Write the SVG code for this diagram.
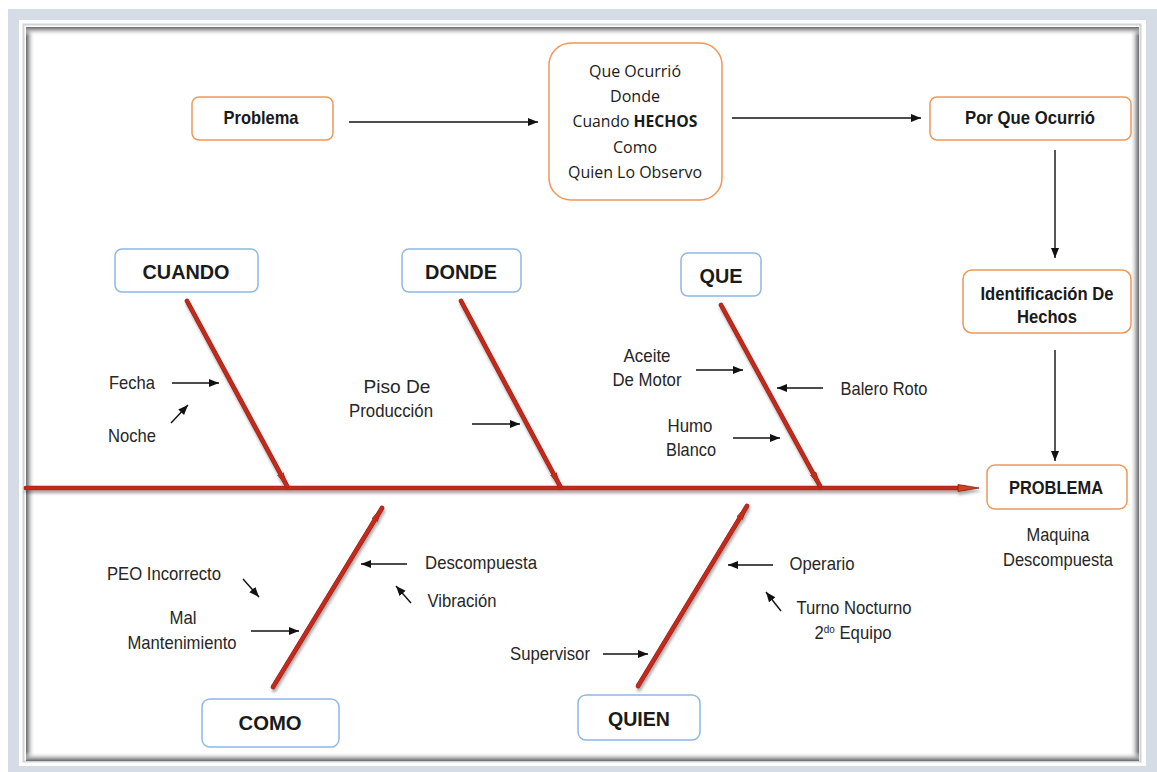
<svg xmlns="http://www.w3.org/2000/svg" width="1157" height="772" viewBox="0 0 1157 772">
  <defs>
    <style>
      .onode { fill: #ffffff; stroke: #f0975a; stroke-width: 1.5; }
      .bnode { fill: #ffffff; stroke: #8fb8e3; stroke-width: 1.5; }
      .hd { font-family: "Liberation Sans", Arial, sans-serif; font-weight: bold; fill: #1a1a1a; text-anchor: middle; }
      .lb { font-family: "Liberation Sans", Arial, sans-serif; font-size: 18.5px; fill: #262626; text-anchor: middle; }
      .cb { font-family: "Open Sans", "Liberation Sans", sans-serif; font-size: 16px; fill: #1a1a1a; text-anchor: middle; }
      .ar { stroke: #111; stroke-width: 1.4; fill: none; marker-end: url(#ah); }
      .bone { stroke: #c42a1c; stroke-width: 3.6; fill: none; stroke-linecap: round; }
      .boneEdge { stroke: #8e1d12; stroke-width: 4.6; fill: none; stroke-linecap: round; }
    </style>
    <marker id="ah" markerUnits="userSpaceOnUse" markerWidth="12" markerHeight="10" refX="10" refY="4" orient="auto">
      <path d="M0,0 L10,4 L0,8 Z" fill="#111"/>
    </marker>
    <marker id="rh" markerUnits="userSpaceOnUse" markerWidth="16" markerHeight="10" refX="14" refY="4" orient="auto">
      <path d="M0,1 L14,4 L0,7 Z" fill="#d0421f" stroke="#8e1d12" stroke-width="0.8"/>
    </marker>
    <filter id="sh" x="-5%" y="-20%" width="110%" height="140%">
      <feGaussianBlur in="SourceAlpha" stdDeviation="1.6"/>
      <feOffset dx="1" dy="2.5" result="b"/>
      <feComponentTransfer><feFuncA type="linear" slope="0.35"/></feComponentTransfer>
      <feMerge><feMergeNode/><feMergeNode in="SourceGraphic"/></feMerge>
    </filter>
    <linearGradient id="fadeL" x1="0" x2="1" y1="0" y2="0">
      <stop offset="0" stop-color="#6a6a6a"/><stop offset="0.25" stop-color="#9c9c9c"/><stop offset="1" stop-color="#ffffff" stop-opacity="0"/>
    </linearGradient>
    <linearGradient id="fadeR" x1="1" x2="0" y1="0" y2="0">
      <stop offset="0" stop-color="#6a6a6a"/><stop offset="0.25" stop-color="#9c9c9c"/><stop offset="1" stop-color="#ffffff" stop-opacity="0"/>
    </linearGradient>
    <linearGradient id="fadeT" x1="0" x2="0" y1="0" y2="1">
      <stop offset="0" stop-color="#6a6a6a"/><stop offset="0.25" stop-color="#9c9c9c"/><stop offset="1" stop-color="#ffffff" stop-opacity="0"/>
    </linearGradient>
    <linearGradient id="fadeB" x1="0" x2="0" y1="1" y2="0">
      <stop offset="0" stop-color="#6a6a6a"/><stop offset="0.25" stop-color="#9c9c9c"/><stop offset="1" stop-color="#ffffff" stop-opacity="0"/>
    </linearGradient>
  </defs>

  <!-- page frame -->
  <rect x="0" y="0" width="1157" height="772" fill="#ffffff"/>
  <rect x="8" y="9" width="1149" height="763" fill="#d5dce6"/>
  <rect x="19" y="20" width="1127" height="746" fill="#ffffff"/>
  <rect x="23.5" y="24.5" width="1117" height="737" fill="none" stroke="#cfd4dc" stroke-width="2"/>
  <rect x="26" y="27" width="1113" height="734" fill="#ffffff"/>
  <!-- inner shadow of the sheet -->
  <g>
    <rect x="26" y="27" width="9" height="734" fill="url(#fadeL)"/>
    <rect x="1130" y="27" width="9" height="734" fill="url(#fadeR)"/>
    <rect x="26" y="27" width="1113" height="9" fill="url(#fadeT)"/>
    <rect x="26" y="752" width="1113" height="9" fill="url(#fadeB)"/>
  </g>

  <!-- connectors -->
  <g id="connectors">
    <line class="ar" x1="349" y1="122" x2="538" y2="122"/>
    <line class="ar" x1="732" y1="118" x2="921" y2="118"/>
    <line class="ar" x1="1055" y1="150" x2="1055" y2="258"/>
    <line class="ar" x1="1055" y1="350" x2="1055" y2="461"/>

    <g filter="url(#sh)">
      <line class="boneEdge" x1="26" y1="488" x2="966" y2="488"/>
      <line class="bone" x1="26" y1="488" x2="966" y2="488" stroke-linecap="butt"/>
      <path d="M958,484.5 L979,488 L958,491.5 Z" fill="#d0421f" stroke="#8e1d12" stroke-width="0.8"/>

      <line class="boneEdge" x1="187" y1="301" x2="287" y2="486" marker-end="url(#rh)"/>
      <line class="bone" x1="187" y1="301" x2="287" y2="486"/>
      <line class="boneEdge" x1="461" y1="301" x2="560" y2="486" marker-end="url(#rh)"/>
      <line class="bone" x1="461" y1="301" x2="560" y2="486"/>
      <line class="boneEdge" x1="721" y1="305" x2="820" y2="486" marker-end="url(#rh)"/>
      <line class="bone" x1="721" y1="305" x2="820" y2="486"/>

      <line class="boneEdge" x1="273" y1="687" x2="382" y2="508" marker-end="url(#rh)"/>
      <line class="bone" x1="273" y1="687" x2="382" y2="508"/>
      <line class="boneEdge" x1="638" y1="686" x2="747" y2="506" marker-end="url(#rh)"/>
      <line class="bone" x1="638" y1="686" x2="747" y2="506"/>
    </g>

    <!-- cause arrows -->
    <line class="ar" x1="172" y1="383" x2="219" y2="383"/>
    <line class="ar" x1="171" y1="423" x2="188" y2="405"/>
    <line class="ar" x1="472" y1="424" x2="520" y2="424"/>
    <line class="ar" x1="696" y1="370" x2="743" y2="370"/>
    <line class="ar" x1="823" y1="388" x2="777" y2="388"/>
    <line class="ar" x1="733" y1="438" x2="780" y2="438"/>
    <line class="ar" x1="243" y1="579" x2="259" y2="597"/>
    <line class="ar" x1="251" y1="631" x2="299" y2="631"/>
    <line class="ar" x1="407" y1="564" x2="361" y2="564"/>
    <line class="ar" x1="411" y1="603" x2="396" y2="586"/>
    <line class="ar" x1="603" y1="654" x2="648" y2="654"/>
    <line class="ar" x1="773" y1="565" x2="728" y2="565"/>
    <line class="ar" x1="781" y1="611" x2="766" y2="592"/>
  </g>

  <!-- flow nodes -->
  <g id="n-problema">
    <rect class="onode" x="192" y="97" width="141" height="43" rx="7"/>
    <text class="hd" x="261" y="124" font-size="18.5" textLength="75" lengthAdjust="spacingAndGlyphs">Problema</text>
  </g>
  <g id="n-hechos">
    <rect class="onode" x="549" y="43" width="173" height="157" rx="22"/>
    <text class="cb" x="635" y="77" textLength="92" lengthAdjust="spacingAndGlyphs">Que Ocurrió</text>
    <text class="cb" x="635" y="102" textLength="50" lengthAdjust="spacingAndGlyphs">Donde</text>
    <text class="cb" x="635" y="127" textLength="125" lengthAdjust="spacingAndGlyphs">Cuando <tspan font-weight="bold">HECHOS</tspan></text>
    <text class="cb" x="635" y="153" textLength="44" lengthAdjust="spacingAndGlyphs">Como</text>
    <text class="cb" x="635" y="178" textLength="134" lengthAdjust="spacingAndGlyphs">Quien Lo Observo</text>
  </g>
  <g id="n-porque">
    <rect class="onode" x="930" y="97" width="201" height="43" rx="7"/>
    <text class="hd" x="1030" y="124" font-size="18.5" textLength="130" lengthAdjust="spacingAndGlyphs">Por Que Ocurrió</text>
  </g>
  <g id="n-identificacion">
    <rect class="onode" x="963" y="270" width="168" height="63" rx="9"/>
    <text class="hd" x="1047" y="300" font-size="18.5" textLength="133" lengthAdjust="spacingAndGlyphs">Identificación De</text>
    <text class="hd" x="1047" y="323" font-size="18.5" textLength="60" lengthAdjust="spacingAndGlyphs">Hechos</text>
  </g>
  <g id="n-problema-final">
    <rect class="onode" x="987" y="465" width="140" height="44" rx="8"/>
    <text class="hd" x="1056" y="494" font-size="18.5" textLength="94" lengthAdjust="spacingAndGlyphs">PROBLEMA</text>
    <text class="lb" x="1058" y="541" textLength="63" lengthAdjust="spacingAndGlyphs">Maquina</text>
    <text class="lb" x="1058" y="566" textLength="110" lengthAdjust="spacingAndGlyphs">Descompuesta</text>
  </g>

  <!-- category nodes -->
  <g id="n-cuando">
    <rect class="bnode" x="115" y="249" width="143" height="43" rx="7"/>
    <text class="hd" x="186" y="279" font-size="21" textLength="87" lengthAdjust="spacingAndGlyphs">CUANDO</text>
  </g>
  <g id="n-donde">
    <rect class="bnode" x="402" y="249" width="119" height="43" rx="7"/>
    <text class="hd" x="461" y="279" font-size="21" textLength="72" lengthAdjust="spacingAndGlyphs">DONDE</text>
  </g>
  <g id="n-que">
    <rect class="bnode" x="681" y="253" width="80" height="43" rx="7"/>
    <text class="hd" x="721" y="283" font-size="21" textLength="43" lengthAdjust="spacingAndGlyphs">QUE</text>
  </g>
  <g id="n-como">
    <rect class="bnode" x="202" y="699" width="137" height="48" rx="8"/>
    <text class="hd" x="270" y="730" font-size="21" textLength="63" lengthAdjust="spacingAndGlyphs">COMO</text>
  </g>
  <g id="n-quien">
    <rect class="bnode" x="578" y="695" width="122" height="45" rx="8"/>
    <text class="hd" x="639" y="726" font-size="21" textLength="62" lengthAdjust="spacingAndGlyphs">QUIEN</text>
  </g>

  <!-- cause labels -->
  <g id="causes">
    <text class="lb" x="132" y="389" textLength="46" lengthAdjust="spacingAndGlyphs">Fecha</text>
    <text class="lb" x="132" y="442" textLength="48" lengthAdjust="spacingAndGlyphs">Noche</text>
    <text class="lb" x="397" y="393" textLength="67" lengthAdjust="spacingAndGlyphs">Piso De</text>
    <text class="lb" x="391" y="417" textLength="84" lengthAdjust="spacingAndGlyphs">Producción</text>
    <text class="lb" x="647" y="362" textLength="47" lengthAdjust="spacingAndGlyphs">Aceite</text>
    <text class="lb" x="647" y="386" textLength="69" lengthAdjust="spacingAndGlyphs">De Motor</text>
    <text class="lb" x="884" y="395" textLength="87" lengthAdjust="spacingAndGlyphs">Balero Roto</text>
    <text class="lb" x="690" y="432" textLength="45" lengthAdjust="spacingAndGlyphs">Humo</text>
    <text class="lb" x="691" y="456" textLength="50" lengthAdjust="spacingAndGlyphs">Blanco</text>
    <text class="lb" x="164" y="580" textLength="114" lengthAdjust="spacingAndGlyphs">PEO Incorrecto</text>
    <text class="lb" x="183" y="624" textLength="27" lengthAdjust="spacingAndGlyphs">Mal</text>
    <text class="lb" x="182" y="649" textLength="109" lengthAdjust="spacingAndGlyphs">Mantenimiento</text>
    <text class="lb" x="481" y="569" textLength="112" lengthAdjust="spacingAndGlyphs">Descompuesta</text>
    <text class="lb" x="462" y="607" textLength="69" lengthAdjust="spacingAndGlyphs">Vibración</text>
    <text class="lb" x="550" y="660" textLength="80" lengthAdjust="spacingAndGlyphs">Supervisor</text>
    <text class="lb" x="822" y="570" textLength="65" lengthAdjust="spacingAndGlyphs">Operario</text>
    <text class="lb" x="854" y="614" textLength="115" lengthAdjust="spacingAndGlyphs">Turno Nocturno</text>
    <text class="lb" x="853" y="639" textLength="77" lengthAdjust="spacingAndGlyphs">2<tspan font-size="11" dy="-6">do</tspan><tspan dy="6"> Equipo</tspan></text>
  </g>
</svg>
